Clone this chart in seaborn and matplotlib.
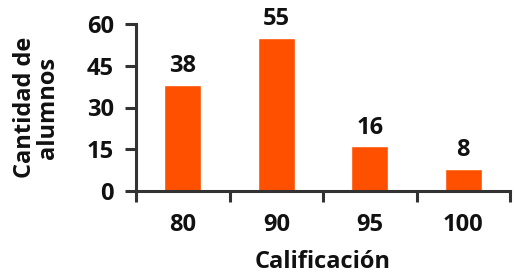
import matplotlib
matplotlib.use("Agg")
import matplotlib.pyplot as plt
import seaborn as sns
import pandas as pd

categories = ["80", "90", "95", "100"]
values = [38, 55, 16, 8]
y_ticks = [0, 15, 30, 45, 60]
x_label = "Calificación"
y_label = "Cantidad de\nalumnos"

sns.set_theme(style="white")
plt.rcParams['font.family'] = ['Open Sans', 'DejaVu Sans']

df = pd.DataFrame({"cat": categories, "val": values})

fig = plt.figure(figsize=(5.14, 2.73), dpi=100)
ax = fig.add_axes([136/514, 1-191/273, (510-136)/514, (191-24)/273])

sns.barplot(data=df, x="cat", y="val", color="#FF5000", saturation=1, width=0.4, ax=ax)

spine_c = "#333333"
fs = 17
tc = "#111111"
ax.set_xlim(-0.5, len(categories) - 0.5)
ax.set_ylim(0, 60)
ax.set_yticks(y_ticks)
ax.set_yticklabels([str(t) for t in y_ticks], fontsize=fs, fontweight="bold", color=tc)

ax.set_xticks([i - 0.5 for i in range(len(categories) + 1)])
ax.set_xticklabels([""] * (len(categories) + 1))
ax.set_xticks(range(len(categories)), minor=True)
ax.set_xticklabels(categories, minor=True, fontsize=fs, fontweight="bold", color=tc)

ax.tick_params(axis="x", which="major", direction="out", length=8, width=2.2, color=spine_c, bottom=True)
ax.tick_params(axis="x", which="minor", length=0, pad=16)
ax.tick_params(axis="y", direction="out", length=8, width=2.2, color=spine_c, left=True, pad=8)

for s in ["top", "right"]:
    ax.spines[s].set_visible(False)
for s in ["left", "bottom"]:
    ax.spines[s].set_color(spine_c)
    ax.spines[s].set_linewidth(2.2)

for i, v in enumerate(values):
    ax.annotate(str(v), (i, v), xytext=(0, 5), textcoords="offset points",
                ha="center", va="bottom", fontsize=fs, fontweight="bold", color=tc)

ax.set_xlabel(x_label, fontsize=fs, fontweight="bold", color=tc, labelpad=9)
ax.set_ylabel(y_label, fontsize=fs, fontweight="bold", color=tc, labelpad=19, linespacing=0.95)

fig.savefig("out.png", dpi=100)
